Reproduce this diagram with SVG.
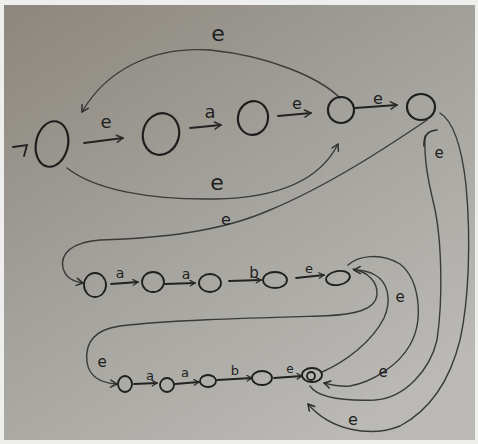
<svg xmlns="http://www.w3.org/2000/svg" width="478" height="444" viewBox="0 0 478 444">
  <defs>
    <linearGradient id="board" x1="0" y1="0" x2="0.7" y2="1">
      <stop offset="0" stop-color="#8c877e"/>
      <stop offset="0.5" stop-color="#a3a19b"/>
      <stop offset="1" stop-color="#bab9b5"/>
    </linearGradient>
    <marker id="ah" viewBox="0 0 10 10" refX="9" refY="5" markerWidth="9" markerHeight="9" orient="auto" markerUnits="userSpaceOnUse">
      <path d="M2,1 L9,5 L2,9" fill="none" stroke="#2a2a2a" stroke-width="1.6" stroke-linecap="round" stroke-linejoin="round"/>
    </marker>
    <marker id="ahs" viewBox="0 0 10 10" refX="9" refY="5" markerWidth="7" markerHeight="7" orient="auto" markerUnits="userSpaceOnUse">
      <path d="M2,1 L9,5 L2,9" fill="none" stroke="#2a2a2a" stroke-width="1.8" stroke-linecap="round" stroke-linejoin="round"/>
    </marker>
  </defs>
  <style>
    .node { fill: none; stroke: #1e1e1e; stroke-width: 2.2; }
    .small { stroke-width: 1.8; }
    .tr { fill: none; stroke: #222; stroke-width: 1.8; stroke-linecap: round; }
    .arc { fill: none; stroke: #3a3a3a; stroke-width: 1.4; stroke-linecap: round; }
    .hook { fill: none; stroke: #2a2a2a; stroke-width: 1.6; stroke-linecap: round; stroke-linejoin: round; }
    text { font-family: "DejaVu Sans", "Liberation Sans", sans-serif; fill: #1e1e1e; text-anchor: middle; }
  </style>

  <rect x="0" y="0" width="478" height="444" fill="#eeeeec"/>
  <rect x="4" y="5" width="471" height="435" fill="url(#board)"/>

  <g id="connectors">
    <!-- start arrow -->
    <path class="tr" d="M13,147 L27,145 L24,156"/>
    <!-- top row -->
    <path class="tr" d="M84,143 L123,138" marker-end="url(#ah)"/>
    <path class="tr" d="M190,128 L221,125" marker-end="url(#ah)"/>
    <path class="tr" d="M278,116 L311,113" marker-end="url(#ah)"/>
    <path class="tr" d="M355,108 L397,105" marker-end="url(#ah)"/>
    <!-- top arc N3 -> N0 -->
    <path class="arc" d="M340,98 C320,78 270,56 210,50 C150,46 105,72 82,112" marker-end="url(#ah)"/>
    <!-- bottom arc N0 -> N3 -->
    <path class="arc" d="M67,168 C95,190 150,200 215,199 C280,198 320,180 338,144" marker-end="url(#ah)"/>
    <!-- N4 -> R2_0 -->
    <path class="arc" d="M427,120 C390,145 330,185 270,210 C220,232 160,238 100,240 C70,242 60,255 63,268 C66,278 72,281 83,283" marker-end="url(#ah)"/>
    <!-- row 2 -->
    <path class="tr" d="M111,284 L138,282" marker-end="url(#ahs)"/>
    <path class="tr" d="M165,284 L195,283" marker-end="url(#ahs)"/>
    <path class="tr" d="M229,281 L261,280" marker-end="url(#ahs)"/>
    <path class="tr" d="M296,278 L324,275" marker-end="url(#ahs)"/>
    <!-- row 3 -->
    <path class="tr" d="M134,384 L157,383" marker-end="url(#ahs)"/>
    <path class="tr" d="M175,384 L199,382" marker-end="url(#ahs)"/>
    <path class="tr" d="M217,380 L252,378" marker-end="url(#ahs)"/>
    <path class="tr" d="M274,378 L302,376" marker-end="url(#ahs)"/>
    <!-- R2_4 -> R3_0 -->
    <path class="arc" d="M353,269 C368,272 378,282 377,295 C375,310 355,315 320,316 C250,318 170,320 120,326 C92,330 85,345 87,362 C89,376 100,383 117,384" marker-end="url(#ah)"/>
    <!-- R2_4 -> R3_4 -->
    <path class="arc" d="M348,265 C358,256 380,252 400,264 C420,280 424,320 410,345 C398,366 372,382 350,386 C340,387 332,385 324,383" marker-end="url(#ah)"/>
    <!-- R3_4 -> R2_4 -->
    <path class="arc" d="M322,372 C345,362 372,342 384,318 C392,300 388,282 375,275 C368,271 362,270 354,270" marker-end="url(#ah)"/>
    <!-- R3_4 -> N4 (inner right line) -->
    <path class="arc" d="M310,386 C318,398 345,401 375,400 C405,398 430,370 437,340 C443,300 442,240 434,205 C428,180 424,160 425,136" />
    <path class="hook" d="M424,146 Q423,131 437,130"/>
    <!-- N4 -> R3_4 (outer right line) -->
    <path class="arc" d="M440,113 C455,122 462,150 466,185 C471,240 469,300 460,340 C450,380 430,410 400,426 C370,438 330,430 308,404" marker-end="url(#ah)"/>
  </g>

  <g id="n0"><ellipse class="node" cx="52" cy="144" rx="16" ry="23" transform="rotate(12 52 144)"/></g>
  <g id="n1"><ellipse class="node" cx="161" cy="134" rx="18" ry="21" transform="rotate(15 161 134)"/></g>
  <g id="n2"><ellipse class="node" cx="253" cy="118" rx="15" ry="17" transform="rotate(10 253 118)"/></g>
  <g id="n3"><ellipse class="node" cx="341" cy="110" rx="13" ry="13"/></g>
  <g id="n4"><ellipse class="node" cx="421" cy="107" rx="14" ry="13"/></g>

  <g id="r2_0"><ellipse class="node small" cx="95" cy="285" rx="11" ry="12"/></g>
  <g id="r2_1"><ellipse class="node small" cx="153" cy="282" rx="11" ry="10"/></g>
  <g id="r2_2"><ellipse class="node small" cx="210" cy="283" rx="11" ry="9"/></g>
  <g id="r2_3"><ellipse class="node small" cx="275" cy="280" rx="12" ry="8"/></g>
  <g id="r2_4"><ellipse class="node small" cx="338" cy="278" rx="12" ry="7" transform="rotate(-10 338 278)"/></g>

  <g id="r3_0"><ellipse class="node small" cx="125" cy="384" rx="7" ry="8"/></g>
  <g id="r3_1"><ellipse class="node small" cx="167" cy="385" rx="7" ry="7"/></g>
  <g id="r3_2"><ellipse class="node small" cx="208" cy="381" rx="8" ry="6"/></g>
  <g id="r3_3"><ellipse class="node small" cx="262" cy="378" rx="10" ry="7"/></g>
  <g id="r3_4">
    <ellipse class="node small" cx="312" cy="375" rx="10" ry="7"/>
    <circle class="node small" cx="311" cy="376" r="4"/>
  </g>

  <g id="labels">
    <text x="218" y="41" font-size="22">e</text>
    <text x="106" y="128" font-size="18">e</text>
    <text x="210" y="118" font-size="18">a</text>
    <text x="297" y="109" font-size="16">e</text>
    <text x="378" y="104" font-size="16">e</text>
    <text x="217" y="190" font-size="22">e</text>
    <text x="439" y="158" font-size="15">e</text>
    <text x="226" y="225" font-size="16">e</text>
    <text x="120" y="278" font-size="14">a</text>
    <text x="186" y="279" font-size="14">a</text>
    <text x="254" y="278" font-size="15">b</text>
    <text x="309" y="273" font-size="13">e</text>
    <text x="150" y="380" font-size="13">a</text>
    <text x="185" y="377" font-size="13">a</text>
    <text x="235" y="375" font-size="13">b</text>
    <text x="290" y="373" font-size="12">e</text>
    <text x="102" y="367" font-size="15">e</text>
    <text x="383" y="377" font-size="15">e</text>
    <text x="400" y="302" font-size="15">e</text>
    <text x="353" y="425" font-size="16">e</text>
  </g>
</svg>
